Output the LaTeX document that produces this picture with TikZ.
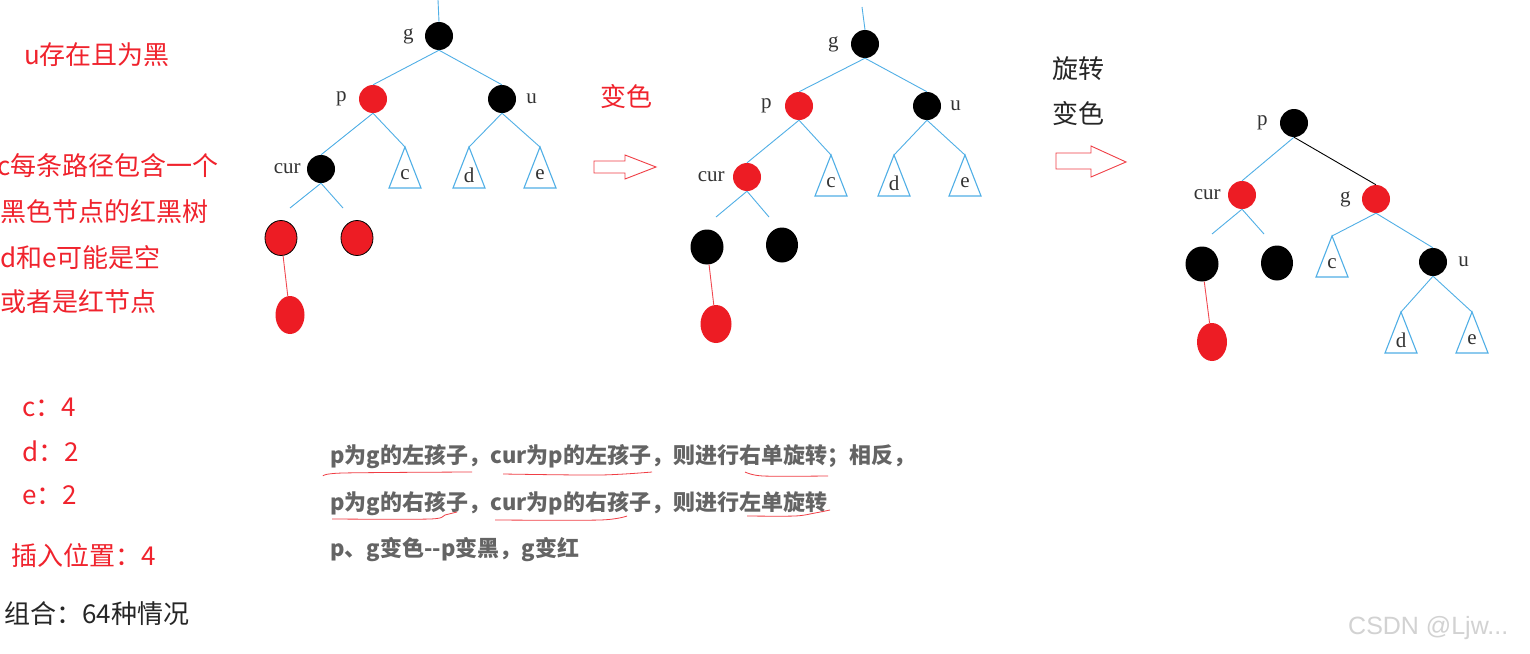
\documentclass[tikz,border=0pt]{standalone}
\usepackage{fontspec}
\setmainfont{Liberation Serif}
\newfontfamily\cjk{Noto Sans CJK SC}
\newfontfamily\wmfont{Liberation Sans}
\usetikzlibrary{positioning,shapes.geometric}
\definecolor{treeblue}{RGB}{80,175,230}
\definecolor{nodered}{RGB}{237,28,36}
\definecolor{notered}{RGB}{240,35,45}
\definecolor{notegray}{RGB}{100,100,100}

\begin{document}
\begin{tikzpicture}[x=1pt, y=-1pt,
        rb/.style={circle, minimum size=28pt, inner sep=0pt},
        blacknode/.style={rb, fill=black},
        rednode/.style={rb, fill=nodered},
        leaf/.style={ellipse, minimum width=32pt, minimum height=35pt, inner sep=0pt},
        edge/.style={treeblue, line width=0.9pt},
        tri/.style={treeblue, line width=1.1pt},
        redline/.style={nodered!80, line width=0.9pt},
        lbl/.style={font=\fontsize{21}{23}\selectfont, text=black!80, inner sep=0pt},
        redtext/.style={font=\cjk\fontsize{26}{30}\selectfont, text=notered, anchor=west, inner sep=0pt},
        blacktext/.style={redtext, text=black!85},
        note/.style={font=\cjk\bfseries\fontsize{22}{25}\selectfont, text=notegray, anchor=west, inner sep=0pt},
        squiggle/.style={nodered!85, line width=0.8pt},
        hollow/.style={nodered!85, line width=0.9pt, line join=miter}]

        \fill[white] (0,0) rectangle (1530,653);
        \useasboundingbox (0,0) rectangle (1530,653);

        % Left notes
        \node[redtext] (t1) at (24,55) {u存在且为黑};
        \node[redtext] (t2) at (-3,166) {c每条路径包含一个};
        \node[redtext] (t3) at (0,212) {黑色节点的红黑树};
        \node[redtext] (t4) at (0,258) {d和e可能是空};
        \node[redtext] (t5) at (0,302) {或者是红节点};
        \node[redtext] (t6) at (22,407) {c：4};
        \node[redtext] (t7) at (22,451) {d：2};
        \node[redtext] (t8) at (22,495) {e：2};
        \node[redtext] (t9) at (11,556) {插入位置：4};
        \node[blacktext] (t10) at (4,614) {组合：64种情况};

        % Subtrees c, d, e
        \foreach \nm/\x/\y/\t in {c1/405/147/c, d1/469/147/d, e1/540/147/e,
                                 c2/831/155/c, d2/894/155/d, e2/965/155/e,
                                 c3/1332/236/c, d3/1401/312/d, e3/1472/312/e} {
            \coordinate (\nm) at (\x,\y);
            \draw[tri] (\nm) -- ++(-16,41) -- ++(32,0) -- cycle;
            \node[lbl] at (\x,\y+28) {\t};
        }

        % Tree 1
        \coordinate (top1) at (438,0);
        \node[blacknode] (g1) at (439,36) {};
        \node[rednode] (p1) at (373,99) {};
        \node[blacknode] (u1) at (502,99) {};
        \node[blacknode] (cur1) at (321,169) {};
        \node[leaf, fill=nodered, draw=black, line width=0.8pt] (l1) at (281,238) {};
        \node[leaf, fill=nodered, draw=black, line width=0.8pt] (r1) at (357,238) {};
        \node[leaf, fill=nodered, minimum width=29pt, minimum height=38pt] (b1) at (290,315) {};
        \coordinate (cl1) at (290,208);
        \coordinate (cr1) at (343,208);
        \node[lbl, left=11pt of g1] {g};
        \node[lbl, left=12pt of p1] {p};
        \node[lbl, right=10pt of u1] {u};
        \node[lbl, left=6pt of cur1] {cur};
        \draw[edge] (top1) -- (g1.north);
        \draw[edge] (g1.south) -- (p1.north);
        \draw[edge] (g1.south) -- (u1.north);
        \draw[edge] (p1.south) -- (cur1.north);
        \draw[edge] (p1.south) -- (c1);
        \draw[edge] (u1.south) -- (d1);
        \draw[edge] (u1.south) -- (e1);
        \draw[edge] (cur1.south) -- (cl1);
        \draw[edge] (cur1.south) -- (cr1);
        \draw[redline] (l1) -- (b1);

        % Arrow 1
        \node[redtext] (recolor) at (600,97) {变色};
        \draw[hollow] (594,161) -- (625,161) -- (625,155) -- (656,167)
            -- (625,179) -- (625,173) -- (594,173) -- cycle;

        % Tree 2
        \coordinate (top2) at (862,7);
        \node[blacknode] (g2) at (865,44) {};
        \node[rednode] (p2) at (799,106) {};
        \node[blacknode] (u2) at (927,106) {};
        \node[rednode] (cur2) at (747,177) {};
        \node[leaf, fill=black, minimum width=33pt] (l2) at (707,247) {};
        \node[leaf, fill=black] (r2) at (782,245) {};
        \node[leaf, fill=nodered, minimum width=31pt, minimum height=38pt] (b2) at (716,324) {};
        \coordinate (cl2) at (716,217);
        \coordinate (cr2) at (769,217);
        \node[lbl, left=12pt of g2] {g};
        \node[lbl, left=13pt of p2] {p};
        \node[lbl, right=9pt of u2] {u};
        \node[lbl, left=8pt of cur2] {cur};
        \draw[edge] (top2) -- (g2.north);
        \draw[edge] (g2.south) -- (p2.north);
        \draw[edge] (g2.south) -- (u2.north);
        \draw[edge] (p2.south) -- (cur2.north);
        \draw[edge] (p2.south) -- (c2);
        \draw[edge] (u2.south) -- (d2);
        \draw[edge] (u2.south) -- (e2);
        \draw[edge] (cur2.south) -- (cl2);
        \draw[edge] (cur2.south) -- (cr2);
        \draw[redline] (l2) -- (b2);

        % Arrow 2
        \node[blacktext] (rotate) at (1052,69) {旋转};
        \node[blacktext] (recolor2) at (1052,114) {变色};
        \draw[hollow] (1056,153) -- (1091,153) -- (1091,146) -- (1126,162)
            -- (1091,177) -- (1091,169) -- (1056,169) -- cycle;

        % Tree 3
        \node[blacknode] (p3) at (1294,123) {};
        \node[rednode] (cur3) at (1242,195) {};
        \node[rednode] (g3) at (1376,199) {};
        \node[blacknode] (u3) at (1433,262) {};
        \node[leaf, fill=black, minimum width=33pt] (l3) at (1202,264) {};
        \node[leaf, fill=black] (r3) at (1277,263) {};
        \node[leaf, fill=nodered, minimum width=30pt, minimum height=38pt] (b3) at (1212,342) {};
        \coordinate (cl3) at (1212,234);
        \coordinate (cr3) at (1264,234);
        \node[lbl, left=12pt of p3] {p};
        \node[lbl, left=7pt of cur3] {cur};
        \node[lbl, left=11pt of g3] {g};
        \node[lbl, right=11pt of u3] {u};
        \draw[edge] (p3.south) -- (cur3.north);
        \draw[black, line width=0.9pt] (p3.south) -- (g3.north);
        \draw[edge] (g3.south) -- (c3);
        \draw[edge] (g3.south) -- (u3.north);
        \draw[edge] (u3.south) -- (d3);
        \draw[edge] (u3.south) -- (e3);
        \draw[edge] (cur3.south) -- (cl3);
        \draw[edge] (cur3.south) -- (cr3);
        \draw[redline] (l3) -- (b3);

        % Rotation notes
        \node[note] (n1) at (330,457) {p为g的左孩子，cur为p的左孩子，则进行右单旋转；相反，};
        \node[note] (n2) at (330,504) {p为g的右孩子，cur为p的右孩子，则进行左单旋转};
        \node[note] (n3) at (330,550) {p、g变色--p变黑，g变红};

        % Red underlines
        \draw[squiggle] plot[smooth] coordinates {(323,476) (343,473) (472,472)};
        \draw[squiggle] plot[smooth] coordinates {(503,474) (600,475) (652,472)};
        \draw[squiggle] plot[smooth] coordinates {(745,472) (763,476) (828,476)};
        \draw[squiggle] plot[smooth] coordinates {(332,519) (430,519) (445,515) (457,512)};
        \draw[squiggle] plot[smooth] coordinates {(495,520) (600,520) (627,516)};
        \draw[squiggle] plot[smooth] coordinates {(747,516) (795,516) (815,513) (830,510)};

        % Watermark
        \node[anchor=west, inner sep=0pt, font=\wmfont\fontsize{25}{28}\selectfont, text=gray!35] (mark) at (1348,628) {CSDN @Ljw...};
\end{tikzpicture}
\end{document}
